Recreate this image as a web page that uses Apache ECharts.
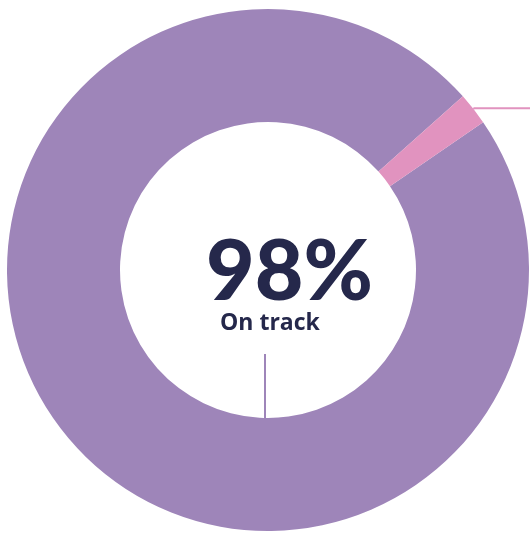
<!DOCTYPE html>
<html lang="en">
  <head>
    <meta charset="UTF-8" />
    <title>On track</title>
    <script src="https://cdn.jsdelivr.net/npm/echarts@6/dist/echarts.min.js"></script>
    <style>
      body { margin: 0; background: #fff; }
    </style>
  </head>
  <body>
    <div id="main" style="width: 530px; height: 533px"></div>
    <script type="text/javascript">
      const categories = ["On track", "Not on track"];
      const values = [98, 2];
      const colors = ["#9e85b9", "#e193bf"];
      const headline = "98%";
      const subline = "On track";

      const cx = 268, cy = 270, rIn = 148, rOut = 261;

      let myChart = echarts.init(document.getElementById("main"));

      let options = {
        animation: false,
        series: [
          {
            type: "pie",
            center: [cx, cy],
            radius: [rIn, rOut],
            startAngle: 34.5,
            clockwise: true,
            silent: true,
            data: categories.map((name, i) => ({
              name: name,
              value: values[i],
              itemStyle: { color: colors[i] },
              label: i === 1
                ? { show: true, formatter: " ", position: "outside" }
                : { show: false },
              labelLine: i === 1
                ? { show: true, length: 1, length2: 80, smooth: false,
                    lineStyle: { color: colors[1], width: 2 } }
                : { show: false },
            })),
          },
        ],
        graphic: [
          {
            type: "text",
            left: 206,
            top: 231,
            style: {
              text: headline,
              font: "900 84px Lato",
              fill: "#25284b",
            },
          },
          {
            type: "text",
            left: 220,
            top: 312,
            style: {
              text: subline,
              font: "bold 23px 'Open Sans'",
              fill: "#25284b",
            },
          },
          {
            type: "line",
            shape: { x1: cx - 3, y1: 354, x2: cx - 3, y2: cy + rIn },
            style: { stroke: colors[0], lineWidth: 2 },
          },
        ],
      };

      myChart.setOption(options);
    </script>
  </body>
</html>
